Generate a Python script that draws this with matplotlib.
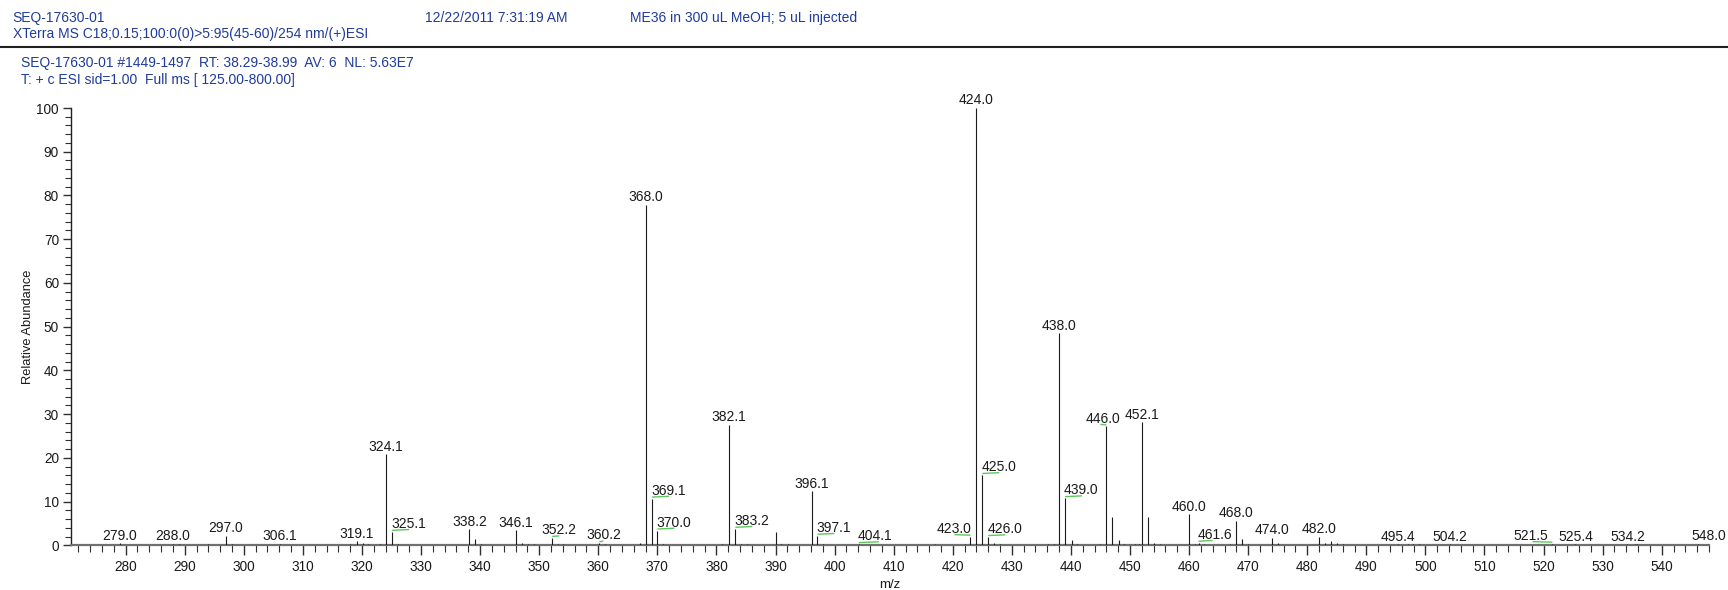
import matplotlib
matplotlib.use("Agg")
import matplotlib.pyplot as plt
from matplotlib.ticker import MultipleLocator
from matplotlib.lines import Line2D

plt.rcParams['font.family'] = ['Liberation Sans', 'DejaVu Sans']

# ---- spectrum data -------------------------------------------------------
# labelled centroid peaks (m/z, relative abundance %)
label_mz = [279.0, 288.0, 297.0, 306.1, 319.1, 324.1, 325.1, 338.2, 346.1,
            352.2, 360.2, 368.0, 369.1, 370.0, 382.1, 383.2, 396.1, 397.1,
            404.1, 423.0, 424.0, 425.0, 426.0, 438.0, 439.0, 446.0, 452.1,
            460.0, 461.6, 468.0, 474.0, 482.0, 495.4, 504.2, 521.5, 525.4,
            534.2, 548.0]
label_ab = [0.5, 0.4, 2.2, 0.4, 1.0, 20.8, 3.1, 3.7, 3.5,
            1.7, 0.5, 77.9, 10.7, 3.4, 27.6, 3.8, 12.4, 2.2,
            0.3, 2.0, 100.0, 16.1, 1.9, 48.5, 10.8, 27.2, 28.2,
            7.1, 0.6, 5.6, 1.8, 2.0, 0.3, 0.3, 0.4, 0.3,
            0.3, 0.4]

# unlabelled minor peaks
minor_mz = [289.1, 294.0, 298.0, 318.0, 320.1, 321.0, 323.0, 326.1, 339.1,
            340.1, 347.1, 348.1, 349.1, 353.1, 354.1, 361.1, 367.1, 371.0,
            374.0, 375.1, 381.0, 384.1, 385.1, 390.0, 391.0, 392.1, 398.1,
            417.0, 422.0, 427.0, 428.0, 436.2, 437.1, 440.1, 441.0, 445.0,
            447.0, 448.1, 449.0, 450.9, 451.5, 453.1, 454.1, 455.1, 461.0,
            462.5, 466.9, 469.0, 470.0, 475.1, 483.0, 484.0, 485.0, 486.0,
            497.1, 497.9, 498.9, 535.4, 535.8, 546.2]
minor_ab = [0.3, 0.3, 0.4, 0.4, 0.6, 0.4, 0.3, 0.4, 1.5,
            0.3, 0.6, 0.3, 0.3, 0.4, 0.3, 0.3, 0.6, 0.3,
            0.2, 0.2, 0.3, 0.4, 0.3, 3.0, 0.3, 0.3, 0.3,
            0.3, 0.4, 0.5, 0.3, 0.3, 0.4, 1.2, 0.3, 0.3,
            6.6, 1.2, 0.3, 0.3, 0.3, 6.6, 0.6, 0.3, 0.4,
            0.3, 0.3, 1.5, 0.3, 0.5, 0.5, 0.9, 0.5, 0.3,
            0.3, 0.3, 0.3, 0.3, 0.3, 0.3]

# labels that are shifted off their peak and tied back with a green leader
# (placement, leader length in px)
shifted = {
    "325.1": ("right", 17), "369.1": ("right", 17), "370.0": ("right", 17),
    "383.2": ("right", 17), "397.1": ("right", 17), "404.1": ("right", 20),
    "425.0": ("right", 17), "426.0": ("right", 17), "439.0": ("right", 17),
    "461.6": ("right", 14), "423.0": ("left", 16), "521.5": ("left", 20),
    "352.2": ("center_r", 7), "360.2": ("center_r", 4), "446.0": ("center_l", 6),
}

header_left_1 = "SEQ-17630-01"
header_mid_1 = "12/22/2011 7:31:19 AM"
header_right_1 = "ME36 in 300 uL MeOH; 5 uL injected"
header_left_2 = "XTerra MS C18;0.15;100:0(0)>5:95(45-60)/254 nm/(+)ESI"
scan_line_1 = "SEQ-17630-01 #1449-1497  RT: 38.29-38.99  AV: 6  NL: 5.63E7"
scan_line_2 = "T: + c ESI sid=1.00  Full ms [ 125.00-800.00]"

# ---- figure ----------------------------------------------------------------
W, H = 1728, 590
fig = plt.figure(figsize=(W / 100, H / 100), dpi=100)
ax = fig.add_axes([70.7 / W, 1 - 545.4 / H, (1709 - 70.7) / W, (545.4 - 108) / H])

XMIN, XMAX = 270.7, 548.0
ax.set_xlim(XMIN, XMAX)
ax.set_ylim(0, 100)

blue = "#1f3c9c"
fs_head = 10

def fig_text(x_px, y_px, s, **kw):
    fig.text(x_px / W, 1 - y_px / H, s, fontsize=fs_head, color=blue,
             va="center", ha="left", **kw)

fig_text(12.6, 18.0, header_left_1)
fig_text(425.0, 18.0, header_mid_1)
fig_text(630.0, 18.0, header_right_1)
fig_text(12.6, 33.8, header_left_2)
fig_text(20.7, 63.5, scan_line_1)
fig_text(20.7, 80.0, scan_line_2)
fig.add_artist(Line2D([0, 1], [1 - 46.5 / H, 1 - 46.5 / H], transform=fig.transFigure,
                      color="#202020", lw=1.5))

# peaks
ax.vlines(minor_mz, 0, minor_ab, colors="#1a1a1a", lw=0.8, zorder=3)
ax.vlines(label_mz, 0, label_ab, colors="#1a1a1a", lw=0.8, zorder=3)

# pixel -> data conversion from the axes scale
fig.canvas.draw()
x0p, y0p = ax.transData.transform((XMIN, 0))
x1p, y1p = ax.transData.transform((XMAX, 100))
px_x = (XMAX - XMIN) / (x1p - x0p)
px_y = 100.0 / (y1p - y0p)

green = "#5cc85c"
for mz, ab in zip(label_mz, label_ab):
    txt = f"{mz:.1f}"
    style = shifted.get(txt)
    if style is None:
        ax.annotate(txt, (mz, ab), xytext=(0, 3.5), textcoords="offset pixels",
                    ha="center", va="baseline", fontsize=10, color="#1a1a1a")
        continue
    kind, length = style
    gy = ab + 1.5 * px_y
    if kind == "right":
        ax.plot([mz, mz + length * px_x], [gy, gy + 0.8 * px_y], color=green, lw=1.0,
                solid_capstyle="butt", zorder=4)
        ax.annotate(txt, (mz, ab), xytext=(-1, 3.8), textcoords="offset pixels",
                    ha="left", va="baseline", fontsize=10, color="#1a1a1a")
    elif kind == "left":
        ax.plot([mz - length * px_x, mz], [gy + 0.5 * px_y, gy], color=green, lw=1.0,
                solid_capstyle="butt", zorder=4)
        ax.annotate(txt, (mz, ab), xytext=(1 if length < 18 else -4, 3.8),
                    textcoords="offset pixels",
                    ha="right", va="baseline", fontsize=10, color="#1a1a1a")
    elif kind == "center_r":
        ax.plot([mz, mz + length * px_x], [gy, gy + 0.6 * px_y], color=green, lw=1.0,
                solid_capstyle="butt", zorder=4)
        ax.annotate(txt, (mz, ab), xytext=(length, 3.8), textcoords="offset pixels",
                    ha="center", va="baseline", fontsize=10, color="#1a1a1a")
    else:
        ax.plot([mz - length * px_x, mz], [gy + 0.6 * px_y, gy], color=green, lw=1.0,
                solid_capstyle="butt", zorder=4)
        ax.annotate(txt, (mz, ab), xytext=(-3, 3.8), textcoords="offset pixels",
                    ha="center", va="baseline", fontsize=10, color="#1a1a1a")

# axes styling
for side in ("top", "right"):
    ax.spines[side].set_visible(False)
ax.spines["bottom"].set_color("#707070")
ax.spines["bottom"].set_linewidth(1.6)
ax.spines["left"].set_color("#202020")
ax.spines["left"].set_linewidth(1.0)

ax.xaxis.set_major_locator(MultipleLocator(10))
ax.xaxis.set_minor_locator(MultipleLocator(2))
ax.yaxis.set_major_locator(MultipleLocator(10))
ax.yaxis.set_minor_locator(MultipleLocator(2))
ax.tick_params(axis="x", which="major", direction="out", length=7.5, width=1.0,
               color="#303030", labelsize=9.8, pad=3, labelcolor="#1a1a1a")
ax.tick_params(axis="x", which="minor", direction="out", length=5, width=0.8,
               color="#303030")
ax.tick_params(axis="y", which="major", direction="out", length=6, width=1.0,
               color="#303030", labelsize=9.8, pad=2.5, labelcolor="#1a1a1a")
ax.tick_params(axis="y", which="minor", direction="out", length=4.5, width=0.8,
               color="#303030")

ax.set_ylabel("Relative Abundance", fontsize=9.3, color="#1a1a1a")
ax.yaxis.set_label_coords((28.3 - 70.7) / (1709 - 70.7), 0.5)
ax.set_xlabel("m/z", fontsize=9.5, color="#1a1a1a")
ax.xaxis.set_label_coords(0.5, -(584.5 - 545.4) / (545.4 - 108))
ax.xaxis.label.set_va("center")
ax.yaxis.label.set_va("center")

fig.savefig("out.png", dpi=100)
